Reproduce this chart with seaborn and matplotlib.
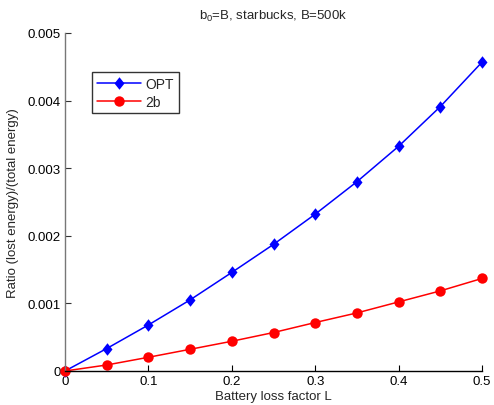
import numpy as np
import pandas as pd
import matplotlib
matplotlib.use("Agg")
import matplotlib.pyplot as plt
import seaborn as sns

L = [0, 0.05, 0.1, 0.15, 0.2, 0.25, 0.3, 0.35, 0.4, 0.45, 0.5]
opt = [0, 0.000332, 0.000681, 0.001052, 0.001458, 0.001873, 0.002320, 0.002800, 0.003324, 0.003911, 0.004569]
twob = [0, 0.000089, 0.000203, 0.000321, 0.000440, 0.000569, 0.000717, 0.000859, 0.001022, 0.001185, 0.001369]
series = ["OPT", "2b"]
xticks = [0, 0.1, 0.2, 0.3, 0.4, 0.5]
yticks = [0, 0.001, 0.002, 0.003, 0.004, 0.005]
ytick_labels = ["0", "0.001", "0.002", "0.003", "0.004", "0.005"]

df = pd.DataFrame({
    "L": L * 2,
    "ratio": opt + twob,
    "method": [series[0]] * len(L) + [series[1]] * len(L),
})

sns.set_theme(style="white")
plt.rcParams["font.family"] = ["Liberation Sans", "DejaVu Sans"]
plt.rcParams["mathtext.fontset"] = "custom"
plt.rcParams["mathtext.rm"] = "Liberation Sans"

fig = plt.figure(figsize=(4.94, 4.06), dpi=100)
ax = fig.add_axes([65/494, 1-372/406, 417/494, 338/406])

diamond = [(0, 1), (0.8, 0), (0, -1), (-0.8, 0), (0, 1)]
sns.lineplot(data=df, x="L", y="ratio", hue="method", style="method",
             palette={"OPT": "#0000ff", "2b": "#ff0000"},
             markers={"OPT": diamond, "2b": "o"}, dashes=False,
             markersize=9, markeredgewidth=0, linewidth=1.1, ax=ax,
             clip_on=False)
for line in ax.lines:
    if line.get_marker() == "o":
        line.set_markersize(7.5)

ax.set_xlim(0, 0.5)
ax.set_ylim(0, 0.005)
ax.set_xticks(xticks)
ax.set_xticklabels([("%g" % t) for t in xticks])
ax.set_yticks(yticks)
ax.set_yticklabels(ytick_labels)
ax.tick_params(bottom=True, left=True, direction="in", length=4, width=0.8,
               labelsize=9.5, colors="black", pad=3)
ax.tick_params(axis="y", color="#333333")
for s in ["top", "right"]:
    ax.spines[s].set_visible(False)
ax.spines["left"].set_color("#777777")
ax.spines["bottom"].set_color("black")
ax.spines["left"].set_linewidth(1.0)
ax.spines["bottom"].set_linewidth(1.0)

ax.set_xlabel("Battery loss factor L", fontsize=9.5, labelpad=2)
ax.set_ylabel("Ratio (lost energy)/(total energy)", fontsize=9.5, labelpad=6)
ax.set_title("b$_0$=B, starbucks, B=500k", fontsize=9.5, pad=10)

handles, labels = ax.get_legend_handles_labels()
for h in handles:
    if h.get_marker() == "o":
        h.set_markersize(7.5)
leg = ax.legend(handles, labels, loc="upper left",
                bbox_to_anchor=(0.064, 0.884), fontsize=10,
                frameon=True, fancybox=False, edgecolor="black",
                handlelength=3.2, handletextpad=0.3, borderpad=0.35,
                labelspacing=0.25, borderaxespad=0)
leg.get_frame().set_linewidth(1.0)

fig.savefig("out.png", dpi=100)
